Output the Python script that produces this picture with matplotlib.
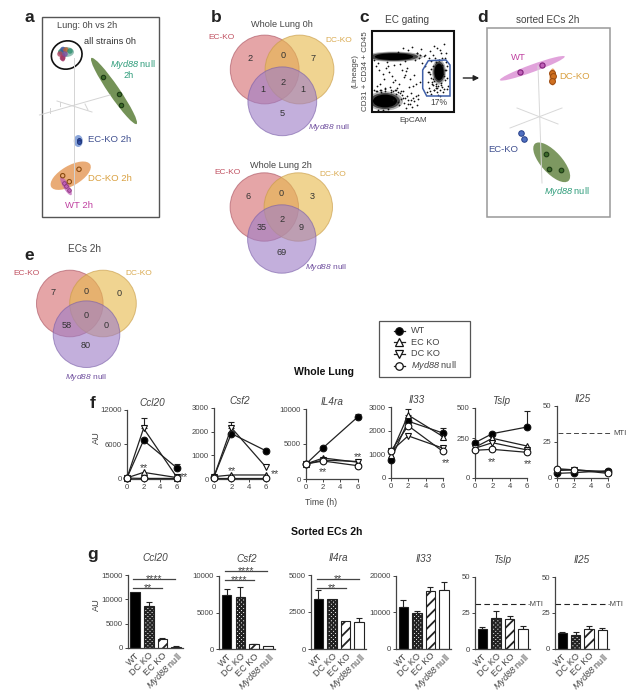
import matplotlib
matplotlib.use('Agg')
import numpy as np
import matplotlib.pyplot as plt
from matplotlib.patches import Circle, Ellipse, Polygon

plt.rcParams['font.family'] = ['Liberation Sans', 'DejaVu Sans']
plt.rcParams['mathtext.fontset'] = 'custom'
plt.rcParams['mathtext.it'] = 'Liberation Sans:italic'
plt.rcParams['mathtext.rm'] = 'Liberation Sans:italic'
plt.rcParams['hatch.linewidth'] = 1.3

W, H = 639, 699
GREY = '#444444'
MYD = r'$\mathit{Myd88}$ null'

# time course, whole lung (h)
hours = [0, 2, 6]
ccl20_wt = [150, 6670, 1900]
ccl20_ec = [150, 1100, 200]
ccl20_dc = [150, 8760, 300]
ccl20_my = [100, 50, 50]
csf2_wt = [100, 1920, 1190]
csf2_ec = [100, 170, 170]
csf2_dc = [100, 2170, 500]
csf2_my = [60, 60, 60]
il4ra_wt = [2150, 4470, 8860]
il4ra_ec = [2150, 3000, 2400]
il4ra_dc = [2150, 2700, 2500]
il4ra_my = [2150, 2570, 1900]
il33_wt = [770, 2400, 1900]
il33_ec = [980, 2660, 1750]
il33_dc = [1120, 1780, 1260]
il33_my = [1120, 2210, 1120]
tslp_wt = [222, 288, 342]
tslp_ec = [193, 250, 201]
tslp_dc = [187, 222, 176]
tslp_my = [174, 180, 161]
il25_wt = [3, 3.5, 4.9]
il25_ec = [5.5, 5.5, 4]
il25_dc = [5, 5.5, 3.9]
il25_my = [6.3, 5.5, 3]
# upper error bars of the time course
ccl20_dc_top = 10600
ccl20_wt_top = 2500
csf2_dc_top = 2400
il33_ec_top = 2900
il33_wt_top = 2100
tslp_wt_top = 473
il4ra_wt_top = 9300

# sorted ECs bars
strains = ['WT', 'DC KO', 'EC KO', MYD]
g_ccl20 = [11520, 8660, 1840, 200]
g_ccl20_top = [11520, 9480, 2050, 340]
g_csf2 = [7420, 7100, 640, 455]
g_csf2_top = [8190, 8550, 700, 455]
g_il4ra = [3375, 3400, 1890, 1820]
g_il4ra_top = [3960, 3400, 1890, 2090]
g_il33 = [11550, 9800, 15770, 16050]
g_il33_top = [13300, 10270, 16870, 18340]
g_tslp = [14, 21.7, 20.5, 13.6]
g_tslp_top = [15.4, 26, 22.5, 15.6]
g_il25 = [11, 9.8, 13.6, 12.9]
g_il25_top = [11.7, 11.9, 15.7, 14.7]
mti_level = 31

# venn counts
venn_0h = ['2', '0', '7', '2', '1', '1', '5']
venn_2h = ['6', '0', '3', '2', '35', '9', '69']
venn_ec = ['7', '0', '0', '0', '58', '0', '80']

a_myd_x, a_myd_y = [103, 119, 121.3], [76.7, 94.3, 105]
a_dc_x, a_dc_y = [62.7, 79, 69.3], [175.7, 169.3, 181.7]
a_wt_x, a_wt_y = [63.5, 66, 68.5], [183, 186, 190]
a_ec_x, a_ec_y = [78.5, 79], [139.5, 142]
a_0h_x = [61, 63, 66, 70, 62.5, 60, 65]
a_0h_y = [52, 49.5, 50, 51, 58, 54, 54]
a_0h_c = ['#2f8f6f', '#3f4f9f', '#c0602f', '#2f8f6f', '#a03060', '#b04060', '#7a4fa0']
d_wt_x, d_wt_y = [520, 542.3], [71.7, 65]
d_dc_x, d_dc_y = [552.3, 553.3, 551.7], [73.3, 75.7, 81]
d_ec_x, d_ec_y = [521, 524], [133.3, 139.3]
d_myd_x, d_myd_y = [545.7, 549, 561.3], [153.7, 168.7, 169.7]

# flow plot, sparse events (EpCAM px, lineage px)
flow_x = [398, 403, 408, 412, 417, 421, 425, 430, 434, 440, 444, 446, 437, 441, 429, 415, 422, 405,
          425, 428, 431, 433, 429, 427, 445, 447, 448, 443, 431, 434, 440, 436, 446, 442, 438, 433,
          376, 379, 383, 386, 389, 392, 395, 399, 402, 405, 397, 393, 388, 384, 380, 377, 407, 410,
          413, 401, 396, 391, 385, 381, 404, 411, 416, 378, 387, 394, 400, 406, 409, 414, 418, 420,
          376, 380, 385, 390, 395, 400, 405, 411, 378, 383, 388, 393, 398, 403, 408, 413, 417, 374,
          431, 433, 436, 439, 442, 445, 430, 444, 446, 432, 447, 429, 434, 441, 443, 437,
          420, 419, 417, 424, 403, 402, 401, 399, 404, 406, 398, 396, 393, 391, 385, 381, 377, 374,
          408, 410, 414, 416, 418, 412, 407, 438, 436, 441, 444, 434, 432, 430, 439, 435, 442, 437,
          433, 436, 431, 428, 445, 447, 440]
flow_y = [52, 48, 50, 47, 53, 49, 55, 51, 46, 50, 44, 53, 48, 53, 58, 60, 63, 61,
          66, 72, 78, 85, 88, 92, 70, 78, 86, 92, 94, 90, 96, 84, 62, 58, 95, 79,
          66, 70, 74, 68, 72, 76, 80, 84, 70, 75, 88, 82, 66, 79, 84, 86, 68, 79,
          86, 91, 94, 92, 88, 90, 77, 93, 84, 63, 62, 65, 64, 71, 87, 75, 95, 82,
          91, 90, 89, 87, 90, 93, 98, 100, 110, 110, 109, 100, 102, 98, 104, 98, 105, 60,
          61, 55, 62, 60, 65, 58, 74, 76, 70, 82, 66, 72, 81, 83, 74, 88,
          55, 58, 53, 56, 91, 95, 99, 105, 103, 108, 92, 90, 91, 90, 91, 92, 91, 90,
          100, 104, 101, 96, 99, 107, 96, 86, 88, 85, 89, 90, 84, 91, 60, 58, 87, 92,
          66, 86, 69, 82, 80, 89, 90]
gate_x = [428.3, 446, 450, 450, 426.7, 422.7, 422.7]
gate_y = [60.7, 60, 65, 96, 96, 88.3, 70]
flow_clouds = [(394, 56.7, 48, 8.5), (385, 101, 30, 16), (439, 72, 11.5, 21)]


def px_axes(x0, ytop, x1, y0):
    return fig.add_axes([x0 / W, 1 - y0 / H, (x1 - x0) / W, (y0 - ytop) / H])


def style(ax, title, yticks, pad):
    for s in ['top', 'right']:
        ax.spines[s].set_visible(False)
    for s in ['left', 'bottom']:
        ax.spines[s].set_color(GREY)
        ax.spines[s].set_linewidth(0.9)
    ax.patch.set_alpha(0)
    ax.set_yticks(yticks)
    ax.tick_params(length=2.2, width=0.7, pad=1.5, labelsize=5.6, colors=GREY)
    ax.set_title(title, fontsize=7.2, style='italic', color=GREY, pad=pad)


def line_panel(pos, title, wt, ec, dc, my, ymax, yticks, tops, stars, scale=None):
    ax = px_axes(*pos)
    if scale:
        ax.set_yscale('function', functions=scale)
    ax.set_xlim(0, 6)
    ax.set_ylim(0, ymax)
    style(ax, title, yticks, 3)
    ax.set_xticks([0, 2, 4, 6])
    for vals, mk, fc in [(wt, 'o', 'black'), (ec, '^', 'white'), (dc, 'v', 'white'), (my, 'o', 'white')]:
        ax.plot(hours, vals, color='#222222', lw=0.9, marker=mk, ms=4.8, mfc=fc, mec='#111111',
                mew=0.8, clip_on=False, zorder=4)
    for h, base, top in tops:
        ax.errorbar([h], [base], yerr=[[0], [top - base]], color='#222222', lw=0.8, capsize=2,
                    capthick=0.8, clip_on=False, zorder=3)
    for sx, sy in stars:
        ax.text(sx, sy, '**', fontsize=7.7, ha='center', va='center', color=GREY, clip_on=False)
    return ax


def bar_panel(pos, title, vals, tops, ymax, yticks, sig=()):
    ax = px_axes(*pos)
    ax.set_xlim(-0.55, 3.5)
    ax.set_ylim(0, ymax)
    style(ax, title, yticks, 10)
    x = np.arange(4)
    bars = ax.bar(x, vals, width=0.7, color=['black', 'white', 'white', 'white'], edgecolor='#222222',
                  linewidth=0.8, zorder=2)
    bars[1].set_hatch('xxxxxxxx')
    bars[2].set_hatch('///')
    for xi, v, t in zip(x, vals, tops):
        if t > v:
            ax.errorbar([xi], [v], yerr=[[0], [t - v]], color='#222222', lw=0.8, capsize=2,
                        capthick=0.8, zorder=1)
    ax.set_xticks(x)
    ax.set_xticklabels(strains, rotation=45, ha='right', va='top', rotation_mode='anchor', fontsize=6.6)
    ax.tick_params(axis='x', length=0, pad=2)
    for x0, x1, y, lab in sig:
        ax.plot([x0, x1], [y, y], color=GREY, lw=0.9, clip_on=False)
        ax.text((x0 + x1) / 2, y, lab, fontsize=7.7, ha='center', va='center', color=GREY, clip_on=False)
    return ax


def venn(bg, cx, cy, r, counts, spots):
    circles = [(cx[0], cy[0], '#d66f72', '#a8505f'), (cx[1], cy[1], '#e7ba4e', '#c79a45'),
               (cx[2], cy[2], '#9e7ec7', '#7a5fa8')]
    for x, y, fc, ec in circles:
        bg.add_patch(Circle((x, y), r, facecolor=fc, alpha=0.62, edgecolor=ec, lw=0.7))
    for (x, y), c in zip(spots, counts):
        bg.text(x, y, c, fontsize=6.6, ha='center', va='center', color='#333333')


fig = plt.figure(figsize=(W / 100, H / 100), dpi=100)
bg = fig.add_axes([0, 0, 1, 1])
bg.set_xlim(0, W)
bg.set_ylim(H, 0)
bg.axis('off')


def note(x, y, s, size=6.6, color=GREY, **kw):
    kw.setdefault('ha', 'center')
    bg.text(x, y, s, fontsize=size, color=color, va='center', **kw)


# panel letters and headings
for lx, ly, s in [(29, 18, 'a'), (216, 18, 'b'), (364.3, 18, 'c'), (483, 18, 'd'), (29, 255.7, 'e'),
                  (92.7, 404, 'f'), (92.7, 555, 'g')]:
    note(lx, ly, s, size=12.5, color='#222222', fontweight='bold')
note(324, 372.3, 'Whole Lung', size=7.6, color='#111111', fontweight='bold')
note(327, 532.3, 'Sorted ECs 2h', size=7.6, color='#111111', fontweight='bold')

# panel a
bg.add_patch(plt.Rectangle((41.7, 16.7), 117.6, 200.6, fill=False, ec='#555555', lw=1))
for xs, ys in [([74, 74], [58, 200]), ([39.5, 110], [115, 95]), ([57, 92], [101, 112]),
               ([60, 60], [102, 106]), ([50, 50], [108, 113]), ([85, 88], [104, 110])]:
    bg.plot(xs, ys, color='#d4d4d4', lw=0.7)
bg.add_patch(Ellipse((66.7, 55), 31, 28, angle=-20, fill=False, ec='#111111', lw=1.2))
bg.add_patch(Ellipse((66, 52), 16, 10, angle=0, fc='#3f8f78', alpha=0.55))
bg.add_patch(Ellipse((63, 57), 5, 9, fc='#a03060', alpha=0.7))
bg.scatter(a_0h_x, a_0h_y, s=16, c=a_0h_c, alpha=0.8, lw=0)
bg.add_patch(Ellipse((114, 91), 80, 11, angle=55.6, fc='#5c7f3a', alpha=0.85, lw=0))
bg.add_patch(Ellipse((78.3, 141), 9, 12, fc='#4f78c8', alpha=0.65, lw=0))
bg.add_patch(Ellipse((70.7, 175.7), 45, 20, angle=-30, fc='#e0883c', alpha=0.7, lw=0))
bg.add_patch(Ellipse((66, 186), 21, 6, angle=60, fc='#c060b8', alpha=0.75, lw=0))
bg.scatter(a_myd_x, a_myd_y, s=10, facecolor='#3c6a2a', edgecolor='#1c3a14', lw=0.8)
bg.scatter(a_ec_x, a_ec_y, s=8, facecolor='#2f4fa8', edgecolor='#1c2f70', lw=0.6)
bg.scatter(a_dc_x, a_dc_y, s=10, facecolor='none', edgecolor='#8a4a10', lw=0.8)
bg.scatter(a_wt_x, a_wt_y, s=7, facecolor='#c060b8', edgecolor='#803070', lw=0.5)
note(86.7, 25.7, 'Lung: 0h vs 2h', size=6.6)
note(110, 41.7, 'all strains 0h', size=6.6, color='#333333')
note(133, 64.5, MYD, size=6.6, color='#2e9c7a')
note(129, 75.5, '2h', size=6.6, color='#2e9c7a')
note(88.3, 140, 'EC-KO 2h', size=6.8, color='#3f4f8f', ha='left')
note(88.3, 178.5, 'DC-KO 2h', size=6.8, color='#d9a040', ha='left')
note(79.3, 205, 'WT 2h', size=6.8, color='#c040a0')

# panel b
venn(bg, [264.7, 299.5, 282.3], [69.5, 69.5, 101.3], 34.4, venn_0h,
     [(250, 58.3), (282.7, 55.7), (313.3, 58.3), (282.7, 82.7), (262.7, 90), (302.7, 90), (282.7, 114)])
venn(bg, [264.3, 298.3, 281.8], [207, 207, 239], 34.2, venn_2h,
     [(248.3, 196.7), (280.7, 194), (312.3, 196.7), (281.7, 220), (261.7, 227.7), (301, 227.7), (281.7, 252.3)])
note(282, 24.3, 'Whole Lung 0h')
note(281, 165, 'Whole Lung 2h')
note(221.7, 37.7, 'EC-KO', size=6, color='#c05060')
note(338.3, 40.7, 'DC-KO', size=6, color='#d9a94e')
note(329.5, 127.3, MYD, size=6, color='#6f4f9e')
note(227.7, 172.7, 'EC-KO', size=6, color='#c05060')
note(332.7, 175, 'DC-KO', size=6, color='#d9a94e')
note(326.5, 267.7, MYD, size=6, color='#6f4f9e')

# panel c
flow_box = plt.Rectangle((372.3, 30.7), 81.7, 81.3, fill=False, ec='#111111', lw=1.5, zorder=3)
bg.add_patch(flow_box)
for grow, fade in [(1.2, 0.3), (1.0, 0.6), (0.8, 1)]:
    for cx, cy, cw, ch in flow_clouds:
        cloud = Ellipse((cx, cy), cw * grow, ch * grow, fc='black', alpha=fade, lw=0)
        bg.add_patch(cloud)
        cloud.set_clip_path(flow_box)
bg.scatter(flow_x, flow_y, s=1.6, c='#111111', lw=0)
bg.add_patch(Polygon(np.column_stack([gate_x, gate_y]), closed=True, fill=False, ec='#3f5fa8', lw=1.1, zorder=3))
note(439.3, 102.7, '17%', size=6.2)
note(406.7, 19.7, 'EC gating', size=7.2)
note(365.7, 70.7, 'CD31 + CD34 + CD45', size=5.8, rotation=90)
note(355, 70.7, '(Lineage)', size=5.8, rotation=90)
note(413.3, 120, 'EpCAM', size=5.9)
bg.annotate('', xy=(482, 78), xytext=(460.5, 78), arrowprops=dict(arrowstyle='-|>', color='#222222', lw=1, mutation_scale=8))

# panel d
bg.add_patch(plt.Rectangle((486.7, 28.3), 123.3, 189, fill=False, ec='#999999', lw=1.1))
for xs, ys in [([538, 542], [66, 183]), ([510, 562], [128, 108]), ([517, 558], [108, 124])]:
    bg.plot(xs, ys, color='#d8d8d8', lw=0.7)
bg.add_patch(Ellipse((532.3, 68.3), 69, 7.5, angle=-20, fc='#d884d0', alpha=0.75, lw=0))
bg.add_patch(Ellipse((552.7, 77), 6.5, 17, fc='#e0883c', alpha=0.8, lw=0))
bg.add_patch(Ellipse((551.7, 162.3), 50, 21, angle=48, fc='#5c7f3a', alpha=0.8, lw=0))
bg.scatter(d_wt_x, d_wt_y, s=14, facecolor='#c060b8', edgecolor='#80207a', lw=0.8)
bg.scatter(d_dc_x, d_dc_y, s=18, facecolor='#d07020', edgecolor='#9a4a10', lw=0.7)
bg.scatter(d_ec_x, d_ec_y, s=16, facecolor='#4f6fc0', edgecolor='#26408a', lw=0.7)
bg.scatter(d_myd_x, d_myd_y, s=11, facecolor='#3c6a2a', edgecolor='#1c3a14', lw=0.8)
note(547.3, 19.7, 'sorted ECs 2h', size=7.2)
note(518.3, 57, 'WT', size=6.8, color='#c040a0')
note(574.7, 76.7, 'DC-KO', size=6.8, color='#d9a040')
note(503.3, 149, 'EC-KO', size=6.8, color='#3f4f8f')
note(567, 191.7, MYD, size=6.6, color='#2e9c7a')

# panel e
note(84, 249.3, 'ECs 2h', size=7.2)
venn(bg, [69.8, 103, 86.5], [303.5, 303.5, 334.2], 33.3, venn_ec,
     [(53.3, 292.7), (86, 291), (118.7, 293), (86, 315.7), (66.3, 325), (106, 325.6), (86, 345.7)])
note(26.7, 273.3, 'EC-KO', size=6, color='#c05060')
note(139, 273.3, 'DC-KO', size=6, color='#d9a94e')
note(86, 377.3, MYD, size=6, color='#6f4f9e')

# legend
bg.add_patch(plt.Rectangle((379.3, 320.7), 90.7, 56, fc='white', ec='#555555', lw=0.9))
for ly, mk, fc, lab in [(330.7, 'o', 'black', 'WT'), (342.3, '^', 'white', 'EC KO'),
                        (354, 'v', 'white', 'DC KO'), (365.7, 'o', 'white', MYD)]:
    bg.plot([393.5, 405], [ly, ly], color='#222222', lw=0.9)
    bg.plot([399], [ly], marker=mk, ms=5.4, mfc=fc, mec='#111111', mew=0.9)
    note(411, ly, lab, size=6.6, ha='left')

# panel f
line_panel((127, 409.7, 176.7, 478.7), 'Ccl20', ccl20_wt, ccl20_ec, ccl20_dc, ccl20_my, 12000, [0, 6000, 12000],
           [(2, ccl20_dc[1], ccl20_dc_top), (6, ccl20_wt[2], ccl20_wt_top)], [(2, 1900), (6.9, 300)])
line_panel((214, 408, 266, 479), 'Csf2', csf2_wt, csf2_ec, csf2_dc, csf2_my, 3000, [0, 1000, 2000, 3000],
           [(2, csf2_dc[1], csf2_dc_top)], [(2.1, 350), (7.08, 210)])
line_panel((306, 409, 357.7, 479), 'IL4ra', il4ra_wt, il4ra_ec, il4ra_dc, il4ra_my, 10000, [0, 5000, 10000],
           [(6, il4ra_wt[2], il4ra_wt_top)], [(2, 1000), (6, 3100)])
line_panel((390.7, 407, 443, 478), 'Il33', il33_wt, il33_ec, il33_dc, il33_my, 3000, [0, 1000, 2000, 3000],
           [(2, il33_ec[1], il33_ec_top), (6, il33_wt[2], il33_wt_top)], [(6.34, 640)])
tslp_scale = (lambda y: np.interp(y, [0, 250, 500], [0, 39.4, 70]),
              lambda v: np.interp(v, [0, 39.4, 70], [0, 250, 500]))
line_panel((475, 407.7, 527, 477.7), 'Tslp', tslp_wt, tslp_ec, tslp_dc, tslp_my, 500, [0, 250, 500],
           [(6, tslp_wt[2], tslp_wt_top)], [(2, 100), (6.15, 85)], scale=tslp_scale)
ax = line_panel((556.7, 406, 608, 477.7), 'Il25', il25_wt, il25_ec, il25_dc, il25_my, 50, [0, 25, 50], [], [])
ax.plot([0.1, 6.2], [mti_level, mti_level], color=GREY, lw=0.7, ls=(0, (5, 3)), clip_on=False)
ax.text(6.6, mti_level, 'MTI', fontsize=5.6, color=GREY, va='center', clip_on=False)
note(96, 437.7, 'AU', size=6.6, rotation=90)
note(321, 502.3, 'Time (h)', size=6.2)

# panel g
bar_panel((127.7, 575, 182.7, 648), 'Ccl20', g_ccl20, g_ccl20_top, 15000, [0, 5000, 10000, 15000],
          [(-0.15, 2.95, 14180, '****'), (-0.15, 2.0, 12270, '**')])
bar_panel((219, 576, 275, 649), 'Csf2', g_csf2, g_csf2_top, 10000, [0, 5000, 10000],
          [(-0.15, 2.95, 10640, '****'), (-0.15, 2.0, 9420, '****')])
bar_panel((311, 575, 366, 649), 'Il4ra', g_il4ra, g_il4ra_top, 5000, [0, 2500, 5000],
          [(-0.1, 3, 4750, '**'), (-0.1, 2.05, 4120, '**')])
bar_panel((396, 576, 450.7, 648.7), 'Il33', g_il33, g_il33_top, 20000, [0, 10000, 20000])
ax = bar_panel((475, 576.7, 530, 649), 'Tslp', g_tslp, g_tslp_top, 50, [0, 25, 50])
ax.plot([-0.55, 3.26], [mti_level, mti_level], color='#222222', lw=0.8, ls=(0, (5, 3)), clip_on=False)
ax.text(3.3, mti_level, '-MTI', fontsize=5.6, color=GREY, va='center', clip_on=False)
ax = bar_panel((555, 577, 609, 648.7), 'Il25', g_il25, g_il25_top, 50, [0, 25, 50])
ax.plot([-0.55, 3.33], [mti_level, mti_level], color='#222222', lw=0.8, ls=(0, (5, 3)), clip_on=False)
ax.text(3.42, mti_level, '-MTI', fontsize=5.6, color=GREY, va='center', clip_on=False)
note(96, 605, 'AU', size=6.6, rotation=90)

fig.savefig('out.png', dpi=100)
